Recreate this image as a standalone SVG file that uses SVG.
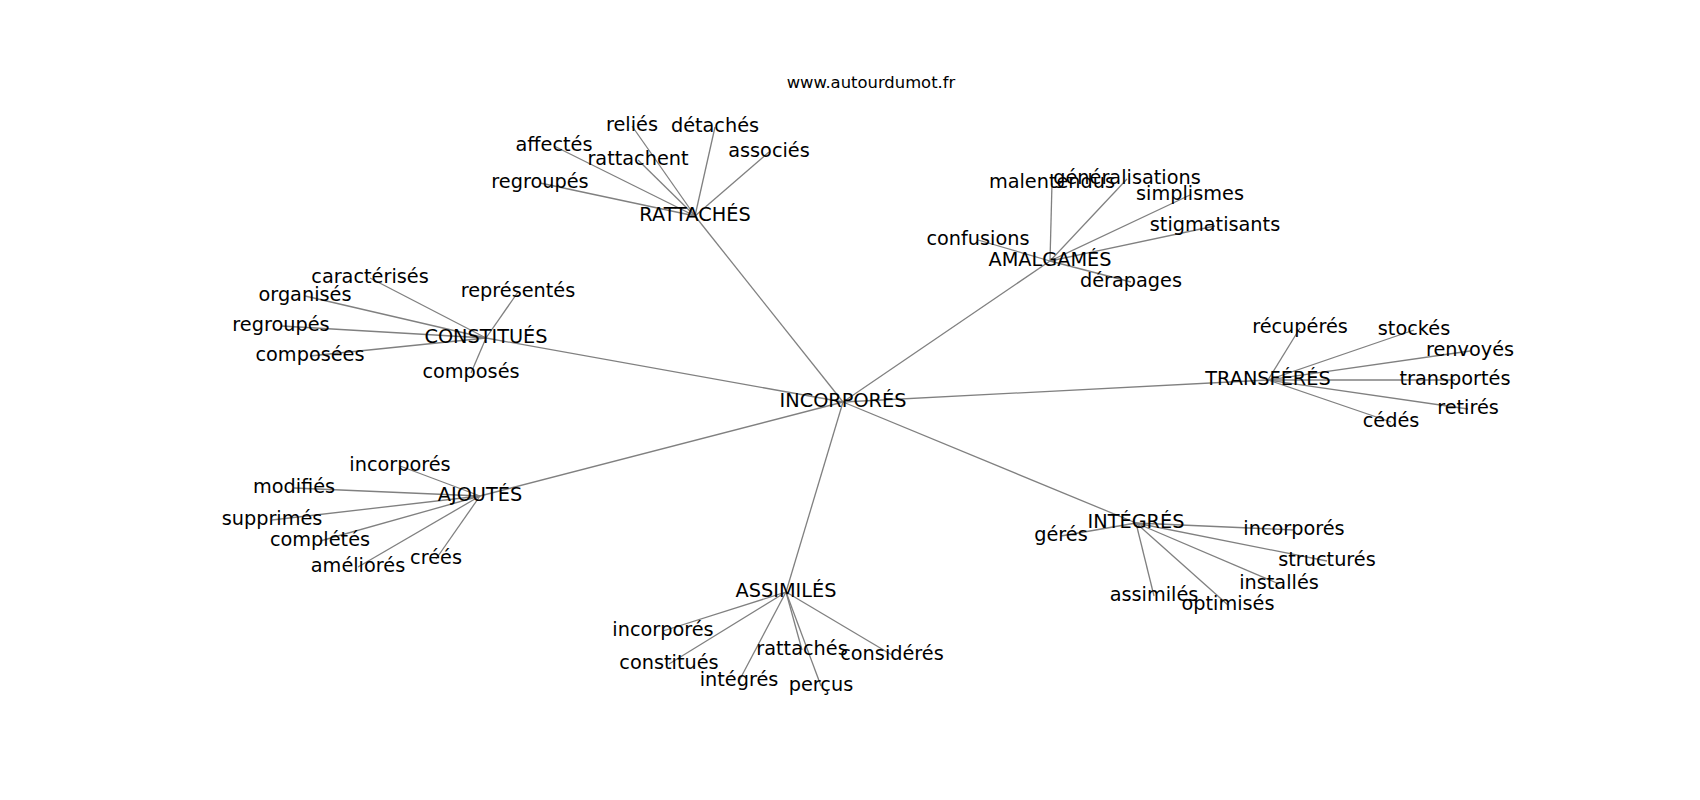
<svg xmlns="http://www.w3.org/2000/svg" width="1700" height="800" viewBox="0 0 1700 800">
<style>
.e{stroke:#808080;stroke-width:1.3;fill:none}
.t{font-family:"DejaVu Sans","Liberation Sans",sans-serif;font-size:19.3px;fill:#000;text-anchor:middle}
.title{font-family:"DejaVu Sans","Liberation Sans",sans-serif;font-size:16.4px;fill:#000;text-anchor:middle}
</style>
<rect width="1700" height="800" fill="#fff"/>
<g id="connectors">
<line class="e" x1="843" y1="402" x2="695" y2="216"/>
<line class="e" x1="843" y1="402" x2="1050" y2="261"/>
<line class="e" x1="843" y1="402" x2="486" y2="338"/>
<line class="e" x1="843" y1="402" x2="1268" y2="380"/>
<line class="e" x1="843" y1="402" x2="480" y2="496"/>
<line class="e" x1="843" y1="402" x2="786" y2="592"/>
<line class="e" x1="843" y1="402" x2="1136" y2="523"/>
<line class="e" x1="695" y1="216" x2="632" y2="126"/>
<line class="e" x1="695" y1="216" x2="715" y2="127"/>
<line class="e" x1="695" y1="216" x2="554" y2="146"/>
<line class="e" x1="695" y1="216" x2="638" y2="160"/>
<line class="e" x1="695" y1="216" x2="769" y2="152"/>
<line class="e" x1="695" y1="216" x2="540" y2="183"/>
<line class="e" x1="1050" y1="261" x2="1052" y2="183"/>
<line class="e" x1="1050" y1="261" x2="1127" y2="179"/>
<line class="e" x1="1050" y1="261" x2="1190" y2="195"/>
<line class="e" x1="1050" y1="261" x2="1215" y2="226"/>
<line class="e" x1="1050" y1="261" x2="978" y2="240"/>
<line class="e" x1="1050" y1="261" x2="1131" y2="282"/>
<line class="e" x1="486" y1="338" x2="370" y2="278"/>
<line class="e" x1="486" y1="338" x2="305" y2="296"/>
<line class="e" x1="486" y1="338" x2="518" y2="292"/>
<line class="e" x1="486" y1="338" x2="281" y2="326"/>
<line class="e" x1="486" y1="338" x2="310" y2="356"/>
<line class="e" x1="486" y1="338" x2="471" y2="373"/>
<line class="e" x1="1268" y1="380" x2="1300" y2="328"/>
<line class="e" x1="1268" y1="380" x2="1414" y2="330"/>
<line class="e" x1="1268" y1="380" x2="1470" y2="351"/>
<line class="e" x1="1268" y1="380" x2="1455" y2="380"/>
<line class="e" x1="1268" y1="380" x2="1468" y2="409"/>
<line class="e" x1="1268" y1="380" x2="1391" y2="422"/>
<line class="e" x1="480" y1="496" x2="400" y2="466"/>
<line class="e" x1="480" y1="496" x2="294" y2="488"/>
<line class="e" x1="480" y1="496" x2="272" y2="520"/>
<line class="e" x1="480" y1="496" x2="320" y2="541"/>
<line class="e" x1="480" y1="496" x2="358" y2="567"/>
<line class="e" x1="480" y1="496" x2="436" y2="559"/>
<line class="e" x1="786" y1="592" x2="663" y2="631"/>
<line class="e" x1="786" y1="592" x2="669" y2="664"/>
<line class="e" x1="786" y1="592" x2="739" y2="681"/>
<line class="e" x1="786" y1="592" x2="802" y2="650"/>
<line class="e" x1="786" y1="592" x2="821" y2="686"/>
<line class="e" x1="786" y1="592" x2="892" y2="655"/>
<line class="e" x1="1136" y1="523" x2="1061" y2="536"/>
<line class="e" x1="1136" y1="523" x2="1294" y2="530"/>
<line class="e" x1="1136" y1="523" x2="1327" y2="561"/>
<line class="e" x1="1136" y1="523" x2="1279" y2="584"/>
<line class="e" x1="1136" y1="523" x2="1154" y2="596"/>
<line class="e" x1="1136" y1="523" x2="1228" y2="605"/>
</g>
<text class="title" x="871" y="88">www.autourdumot.fr</text>
<g id="n-incorpores"><text class="t" x="843" y="407">INCORPORÉS</text></g>
<g id="n-rattaches-hub"><text class="t" x="695" y="221">RATTACHÉS</text></g>
<g id="n-relies"><text class="t" x="632" y="131">reliés</text></g>
<g id="n-detaches"><text class="t" x="715" y="132">détachés</text></g>
<g id="n-affectes"><text class="t" x="554" y="151">affectés</text></g>
<g id="n-rattachent"><text class="t" x="638" y="165">rattachent</text></g>
<g id="n-associes"><text class="t" x="769" y="157">associés</text></g>
<g id="n-regroupes-1"><text class="t" x="540" y="188">regroupés</text></g>
<g id="n-amalgames"><text class="t" x="1050" y="266">AMALGAMÉS</text></g>
<g id="n-malentendus"><text class="t" x="1052" y="188">malentendus</text></g>
<g id="n-generalisations"><text class="t" x="1127" y="184">généralisations</text></g>
<g id="n-simplismes"><text class="t" x="1190" y="200">simplismes</text></g>
<g id="n-stigmatisants"><text class="t" x="1215" y="231">stigmatisants</text></g>
<g id="n-confusions"><text class="t" x="978" y="245">confusions</text></g>
<g id="n-derapages"><text class="t" x="1131" y="287">dérapages</text></g>
<g id="n-constitues-hub"><text class="t" x="486" y="343">CONSTITUÉS</text></g>
<g id="n-caracterises"><text class="t" x="370" y="283">caractérisés</text></g>
<g id="n-organises"><text class="t" x="305" y="301">organisés</text></g>
<g id="n-representes"><text class="t" x="518" y="297">représentés</text></g>
<g id="n-regroupes-2"><text class="t" x="281" y="331">regroupés</text></g>
<g id="n-composees"><text class="t" x="310" y="361">composées</text></g>
<g id="n-composes"><text class="t" x="471" y="378">composés</text></g>
<g id="n-transferes"><text class="t" x="1268" y="385">TRANSFÉRÉS</text></g>
<g id="n-recuperes"><text class="t" x="1300" y="333">récupérés</text></g>
<g id="n-stockes"><text class="t" x="1414" y="335">stockés</text></g>
<g id="n-renvoyes"><text class="t" x="1470" y="356">renvoyés</text></g>
<g id="n-transportes"><text class="t" x="1455" y="385">transportés</text></g>
<g id="n-retires"><text class="t" x="1468" y="414">retirés</text></g>
<g id="n-cedes"><text class="t" x="1391" y="427">cédés</text></g>
<g id="n-ajoutes"><text class="t" x="480" y="501">AJOUTÉS</text></g>
<g id="n-incorpores-ajo"><text class="t" x="400" y="471">incorporés</text></g>
<g id="n-modifies"><text class="t" x="294" y="493">modifiés</text></g>
<g id="n-supprimes"><text class="t" x="272" y="525">supprimés</text></g>
<g id="n-completes"><text class="t" x="320" y="546">complétés</text></g>
<g id="n-ameliores"><text class="t" x="358" y="572">améliorés</text></g>
<g id="n-crees"><text class="t" x="436" y="564">créés</text></g>
<g id="n-assimiles-hub"><text class="t" x="786" y="597">ASSIMILÉS</text></g>
<g id="n-incorpores-ass"><text class="t" x="663" y="636">incorporés</text></g>
<g id="n-constitues"><text class="t" x="669" y="669">constitués</text></g>
<g id="n-integres"><text class="t" x="739" y="686">intégrés</text></g>
<g id="n-rattaches"><text class="t" x="802" y="655">rattachés</text></g>
<g id="n-percus"><text class="t" x="821" y="691">perçus</text></g>
<g id="n-consideres"><text class="t" x="892" y="660">considérés</text></g>
<g id="n-integres-hub"><text class="t" x="1136" y="528">INTÉGRÉS</text></g>
<g id="n-geres"><text class="t" x="1061" y="541">gérés</text></g>
<g id="n-incorpores-int"><text class="t" x="1294" y="535">incorporés</text></g>
<g id="n-structures"><text class="t" x="1327" y="566">structurés</text></g>
<g id="n-installes"><text class="t" x="1279" y="589">installés</text></g>
<g id="n-assimiles"><text class="t" x="1154" y="601">assimilés</text></g>
<g id="n-optimises"><text class="t" x="1228" y="610">optimisés</text></g>
</svg>
